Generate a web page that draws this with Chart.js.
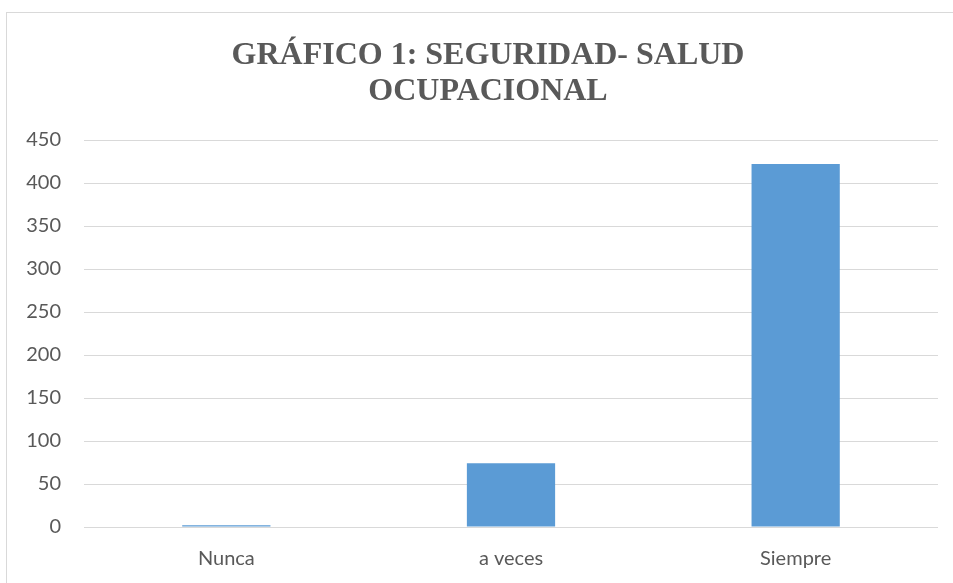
<!DOCTYPE html>
<html>
<head>
<meta charset="utf-8">
<script src="https://cdn.jsdelivr.net/npm/chart.js@4/dist/chart.umd.min.js"></script>
<style>
  html, body { margin: 0; padding: 0; background: #fff; overflow: hidden; }
  #wrap { position: relative; width: 953px; height: 583px; }
  #frame { position: absolute; left: 6px; top: 12px; width: 1000px; height: 1000px; border: 1px solid #d9d9d9; }
  canvas { position: absolute; left: 0; top: 0; }
</style>
</head>
<body>
<div id="wrap">
  <div id="frame"></div>
  <canvas id="myChart" width="953" height="583"></canvas>
</div>
<script>
const categories = ["Nunca", "a veces", "Siempre"];
const values = [2, 74, 422];
const titleLines = ["GRÁFICO 1: SEGURIDAD- SALUD", "OCUPACIONAL"];

// the original title is centred on the whole (wider) frame, not on the plot
const shiftTitle = {
    id: "shiftTitle",
    afterLayout(chart) {
        if (chart.titleBlock) chart.titleBlock.left = 38;
    },
};

const ctx = document.getElementById("myChart").getContext("2d");
new Chart(ctx, {
    type: "bar",
    data: {
        labels: categories,
        datasets: [
            {
                data: values,
                backgroundColor: "#5b9bd5",
                barPercentage: 0.31,
                categoryPercentage: 1,
            },
        ],
    },
    options: {
        responsive: false,
        animation: false,
        layout: { padding: { left: 0, right: 15, top: 0, bottom: 0 } },
        plugins: {
            legend: { display: false },
            tooltip: { enabled: false },
            title: {
                display: true,
                text: titleLines,
                color: "#595959",
                font: { family: "'Liberation Serif', 'Times New Roman', serif", size: 32, weight: "bold", lineHeight: 1.125 },
                padding: { top: 38, bottom: 30 },
            },
        },
        scales: {
            x: {
                grid: { display: false, drawTicks: false },
                border: { display: false },
                ticks: { color: "#595959", font: { family: "Lato, 'Open Sans', sans-serif", size: 20 }, padding: 20 },
                afterFit(scale) { scale.height = 56; },
            },
            y: {
                min: 0,
                max: 450,
                grid: { color: "#d9d9d9", lineWidth: 1, drawTicks: false },
                border: { display: false },
                ticks: { stepSize: 50, color: "#595959", font: { family: "Lato, 'Open Sans', sans-serif", size: 20 }, padding: 23 },
                afterFit(scale) { scale.width = 84; },
            },
        },
    },
    plugins: [shiftTitle],
});
</script>
</body>
</html>
